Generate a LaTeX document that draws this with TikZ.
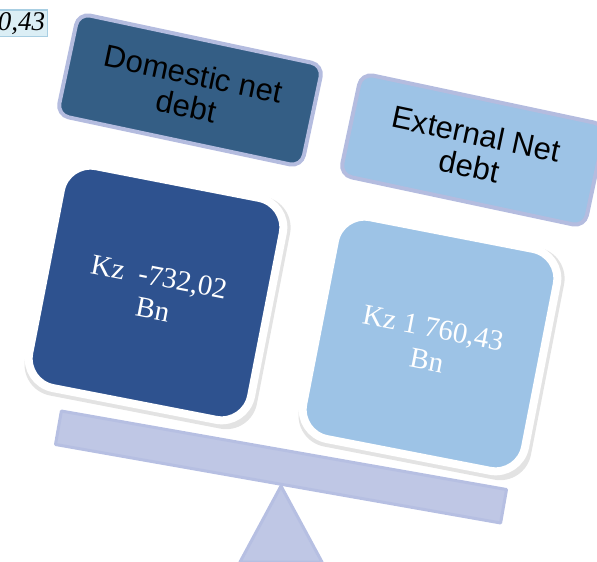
\documentclass[tikz,border=0pt]{standalone}
\usepackage{fontspec}
\setmainfont{Liberation Serif}
\newfontfamily\headfont{Liberation Sans}
\usepackage{tikz}
\usetikzlibrary{positioning, shapes.geometric, shadows, calc}
\usepackage{xcolor}

\definecolor{domhead}{RGB}{52,94,133}
\definecolor{domval}{RGB}{46,82,143}
\definecolor{extfill}{RGB}{157,195,230}
\definecolor{headrim}{RGB}{180,188,223}
\definecolor{beamfill}{RGB}{191,199,229}
\definecolor{beamrim}{RGB}{182,191,226}
\definecolor{fragfill}{RGB}{219,238,245}
\definecolor{fragrim}{RGB}{168,206,226}

\begin{document}
\begin{tikzpicture}[
    x=1pt, y=-1pt,
    headbox/.style={draw=headrim, line width=4pt, rounded corners=12pt,
        minimum width=250pt, minimum height=104pt, align=center,
        font=\headfont\fontsize{31}{33}\selectfont, text=black, rotate=-12},
    valbox/.style={draw=white, line width=8pt, rounded corners=30pt,
        minimum width=226pt, minimum height=226pt, align=center,
        font=\fontsize{29}{33}\selectfont, text=white, rotate=-11,
        drop shadow={shadow xshift=1.5pt, shadow yshift=-3pt, shadow scale=1.045,
            fill=black!50, opacity=0.22}},
    fulcrum/.style={fill=beamfill, draw=beamrim, line width=3pt, line join=round},
    fragbox/.style={fill=fragfill, draw=fragrim, line width=1.5pt, inner sep=2pt,
        font=\itshape\fontsize{27}{30}\selectfont, text=black}
]
    \useasboundingbox (0,0) rectangle (597,562);

    % the scale: stand and beam
    \coordinate (apex) at (281,486);
    \coordinate (footl) at (240,562);
    \coordinate (footr) at (322,562);
    \draw[fulcrum] (apex) -- (footl) -- (footr) -- cycle;
    \node[fulcrum, rotate=-10, minimum width=452pt, minimum height=34pt] (beam) at (281,467) {};

    % headings
    \node[headbox, fill=domhead] (domhead) at (190,90) {Domestic net\\debt};
    \node[headbox, fill=extfill] (exthead) at (473,150) {External Net\\debt};

    % values on the pans
    \node[valbox, fill=domval] (domval) at (156,293) {Kz~ -732,02\\Bn};
    \node[valbox, fill=extfill] (extval) at (430,344) {Kz 1 760,43\\Bn};

    % cut-off box in the corner
    \node[fragbox, anchor=south east] (frag) at (48,37) {0,43};
\end{tikzpicture}
\end{document}
